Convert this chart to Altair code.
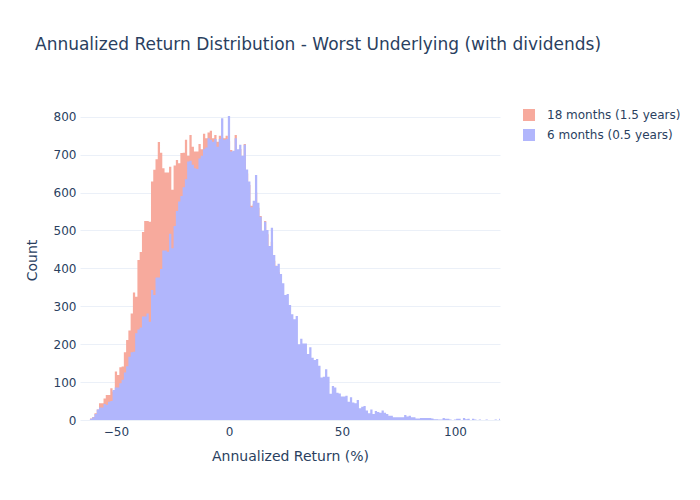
import altair as alt
import pandas as pd

TITLE = "Annualized Return Distribution - Worst Underlying (with dividends)"
SERIES = ["18 months (1.5 years)", "6 months (0.5 years)"]
COLORS = ["#F7AA9D", "#B1B6FC"]
TEXT = "#2a3f5f"
FONT = "DejaVu Sans"

# histogram bins of width 1, centred on whole percents
bin_centres = list(range(-61, 121))

counts_18m = [
    4, 8, 18, 28, 44, 44, 57, 66, 66, 84,            # -61 .. -52
    75, 128, 119, 139, 141, 179, 211, 236, 281, 336,  # -51 .. -42
    325, 422, 443, 496, 525, 525, 523, 629, 660, 688,  # -41 .. -32
    733, 705, 664, 653, 653, 668, 607, 671, 686, 677,  # -31 .. -22
    704, 705, 739, 697, 752, 721, 708, 708, 728, 714,  # -21 .. -12
    755, 743, 758, 763, 743, 752, 734, 750, 745, 743,  # -11 .. -2
    750, 735, 712, 700, 752, 705, 715, 690, 728, 650,  # -1 .. 8
    620, 565, 570, 600, 560, 538, 490, 525, 490, 450,  # 9 .. 18
    470, 420, 407, 390, 360, 330, 300, 290, 260, 240,  # 19 .. 28
    220, 200, 180, 170, 150, 140, 125, 115, 100, 92,   # 29 .. 38
    84, 75, 66, 60, 54, 48, 44, 40, 35, 32,            # 39 .. 48
    28, 25, 22, 20, 17, 15, 13, 12, 10, 9,             # 49 .. 58
    8, 7, 6, 5, 4, 4, 3, 3, 2, 2,                      # 59 .. 68
    2, 1, 1, 1, 0, 1, 0, 0, 0, 0,                      # 69 .. 78
    0, 0, 0, 0, 0, 0, 0, 0, 0, 0,                      # 79 .. 88
    0, 0, 0, 0, 0, 0, 0, 0, 0, 0,                      # 89 .. 98
    0, 0, 0, 0, 0, 0, 0, 0, 0, 0,                      # 99 .. 108
    0, 0, 0, 0, 0, 0, 0, 0, 0, 0,                      # 109 .. 118
    0, 0,                                              # 119 .. 120
]

counts_6m = [
    3, 7, 16, 28, 33, 33, 42, 40, 48, 50,             # -61 .. -52
    79, 86, 86, 97, 106, 125, 142, 167, 179, 180,     # -51 .. -42
    229, 239, 244, 273, 273, 281, 259, 343, 330, 376,  # -41 .. -32
    376, 398, 447, 447, 444, 491, 453, 512, 551, 576,  # -31 .. -22
    591, 614, 635, 682, 684, 673, 664, 662, 690, 697,  # -21 .. -12
    714, 719, 743, 739, 734, 741, 721, 741, 796, 739,  # -11 .. -2
    741, 802, 708, 710, 743, 714, 726, 697, 726, 661,  # -1 .. 8
    629, 561, 578, 646, 573, 536, 499, 523, 501, 459,  # 9 .. 18
    507, 435, 406, 412, 385, 361, 330, 332, 303, 279,  # 19 .. 28
    266, 274, 200, 214, 202, 202, 174, 192, 164, 158,  # 29 .. 38
    161, 143, 112, 114, 134, 114, 69, 90, 86, 72,      # 39 .. 48
    70, 62, 62, 64, 48, 60, 46, 44, 53, 31,            # 49 .. 58
    35, 37, 25, 18, 28, 16, 24, 21, 19, 25,            # 59 .. 68
    19, 16, 11, 11, 7, 7, 7, 7, 7, 13,                 # 69 .. 78
    9, 11, 7, 7, 4, 4, 5, 5, 5, 5,                     # 79 .. 88
    5, 4, 2, 2, 1, 1, 5, 3, 3, 1,                      # 89 .. 98
    0, 1, 3, 3, 0, 5, 2, 3, 0, 3,                      # 99 .. 108
    1, 0, 1, 0, 0, 1, 0, 0, 0, 1,                      # 109 .. 118
    0, 3,                                              # 119 .. 120
]

x_ticks = [-50, 0, 50, 100]
y_ticks = [0, 100, 200, 300, 400, 500, 600, 700, 800]

# step outline per series: each bin's left edge, plus the right edge of the last bin
rows = []
for name, counts in zip(SERIES, [counts_18m, counts_6m]):
    for centre, n in zip(bin_centres, counts):
        rows.append({"series": name, "edge": centre - 0.5, "count": n})
    rows.append({"series": name, "edge": bin_centres[-1] + 0.5, "count": counts[-1]})
hist = pd.DataFrame(rows)

chart = alt.Chart(hist).mark_area(interpolate="step-after", clip=True, opacity=1).encode(
    x=alt.X(
        "edge:Q",
        scale=alt.Scale(domain=[-65.9, 119.9], nice=False, zero=False),
        axis=alt.Axis(
            values=x_ticks, grid=False, domain=False, ticks=False, tickSize=0,
            labelPadding=6, title="Annualized Return (%)", titlePadding=12,
        ),
    ),
    y=alt.Y(
        "count:Q",
        stack=None,
        scale=alt.Scale(domain=[0, 844], nice=False),
        axis=alt.Axis(
            values=y_ticks, domain=False, ticks=False, tickSize=0,
            labelPadding=4, title="Count", titlePadding=14,
        ),
    ),
    color=alt.Color(
        "series:N",
        scale=alt.Scale(domain=SERIES, range=COLORS),
        legend=alt.Legend(
            title=None, orient="none", legendX=443, legendY=9, padding=0,
            symbolType="square", symbolSize=144, symbolStrokeWidth=0, symbolOpacity=1,
            labelFontSize=12, labelColor=TEXT, labelFont=FONT,
            labelOffset=12, rowPadding=8,
        ),
    ),
    order=alt.Order("series:N"),
).properties(
    width=420,
    height=320,
    autosize=alt.AutoSizeParams(type="none"),
    padding={"left": 72, "top": 92, "right": 180, "bottom": 72},
    title=alt.TitleParams(
        TITLE, anchor="start", frame="group", dx=-45, offset=46,
        fontSize=17, font=FONT, fontWeight="normal", color=TEXT,
    ),
).configure_view(
    stroke=None
).configure_axis(
    labelFont=FONT, labelFontSize=12, labelColor=TEXT,
    titleFont=FONT, titleFontSize=14, titleFontWeight="normal", titleColor=TEXT,
    gridColor="#EBF0F8", gridWidth=1,
)

chart.save("out.html", embed_options={"renderer": "svg", "actions": False})
